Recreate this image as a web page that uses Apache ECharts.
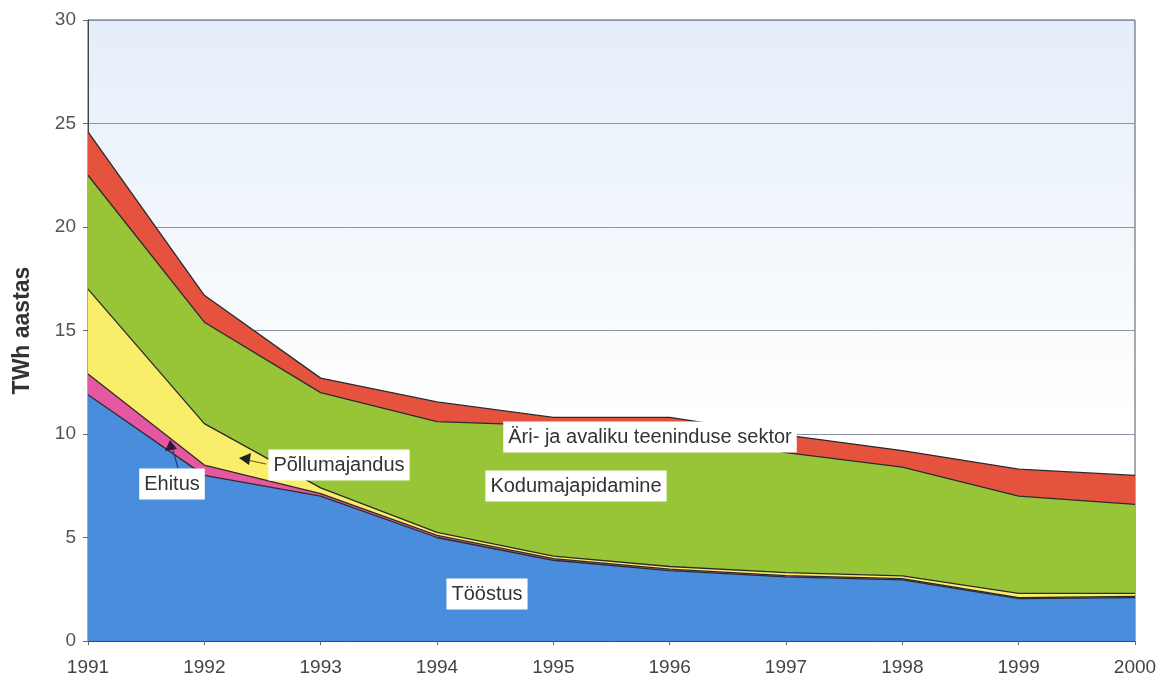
<!DOCTYPE html>
<html>
<head>
<meta charset="utf-8">
<script src="https://cdn.jsdelivr.net/npm/echarts@6/dist/echarts.min.js"></script>
<style>
  html, body { margin: 0; padding: 0; background: #fff; }
  #main { width: 1157px; height: 684px; }
</style>
</head>
<body>
<div id="main"></div>
<script>
  // aastad ja sektorite tarbimine (TWh aastas)
  const years = ['1991', '1992', '1993', '1994', '1995', '1996', '1997', '1998', '1999', '2000'];
  const toostus = [11.9, 8.0, 7.0, 5.0, 3.9, 3.4, 3.1, 2.95, 2.05, 2.1];
  const ehitus = [1.0, 0.5, 0.12, 0.1, 0.08, 0.07, 0.06, 0.06, 0.05, 0.05];
  const pollumajandus = [4.1, 2.0, 0.28, 0.15, 0.12, 0.13, 0.14, 0.14, 0.2, 0.15];
  const kodumajapidamine = [5.5, 4.9, 4.6, 5.35, 6.3, 6.6, 5.8, 5.25, 4.7, 4.3];
  const ariSektor = [2.1, 1.3, 0.7, 0.95, 0.4, 0.6, 0.85, 0.8, 1.3, 1.4];

  const font = 'Liberation Sans, Arial, sans-serif';
  let myChart = echarts.init(document.getElementById('main'));

  function area(name, data, color) {
    return {
      name: name,
      type: 'line',
      stack: 'kokku',
      data: data,
      symbol: 'none',
      lineStyle: { color: '#2b2b2b', width: 1.3 },
      areaStyle: { color: color, opacity: 1 },
      emphasis: { disabled: true }
    };
  }

  function silt(text, x, y) {
    return {
      type: 'text',
      x: x,
      y: y,
      z: 100,
      style: {
        text: text,
        font: '20px ' + font,
        fill: '#333',
        align: 'center',
        verticalAlign: 'middle',
        backgroundColor: '#fff',
        padding: [6, 5, 5, 5]
      }
    };
  }

  let option = {
    animation: false,
    grid: {
      left: 88, right: 22, top: 20, bottom: 43,
      outerBoundsMode: 'none',
      show: true,
      borderColor: '#555',
      borderWidth: 1,
      backgroundColor: new echarts.graphic.LinearGradient(0, 0, 0, 1, [
        { offset: 0, color: '#e4eef9' },
        { offset: 0.65, color: '#ffffff' },
        { offset: 1, color: '#ffffff' }
      ])
    },
    xAxis: {
      type: 'category',
      data: years,
      boundaryGap: false,
      axisLine: { lineStyle: { color: '#444', width: 1 } },
      axisTick: { show: true, length: 4, lineStyle: { color: '#666' } },
      axisLabel: { color: '#444', fontSize: 19, fontFamily: font, margin: 17 },
      splitLine: { show: false }
    },
    yAxis: {
      type: 'value',
      min: 0,
      max: 30,
      interval: 5,
      name: 'TWh aastas',
      nameLocation: 'middle',
      nameGap: 54,
      nameTextStyle: { color: '#333', fontSize: 23, fontWeight: 'bold', fontFamily: font },
      axisLine: { show: true, lineStyle: { color: '#444', width: 1 } },
      axisTick: { show: true, length: 5, lineStyle: { color: '#666' } },
      axisLabel: { color: '#555', fontSize: 19, fontFamily: font, margin: 12 },
      splitLine: { lineStyle: { color: '#8c92aa', width: 1 } }
    },
    series: [
      area('Tööstus', toostus, '#4a8ddd'),
      area('Ehitus', ehitus, '#e657a2'),
      area('Põllumajandus', pollumajandus, '#f9ee6a'),
      area('Kodumajapidamine', kodumajapidamine, '#98c437'),
      area('Äri- ja avaliku teeninduse sektor', ariSektor, '#e5533e')
    ],
    graphic: [
      silt('Ehitus', 172, 484),
      silt('Põllumajandus', 339, 465),
      silt('Kodumajapidamine', 576, 486),
      silt('Tööstus', 487, 594),
      silt('Äri- ja avaliku teeninduse sektor', 650, 437),
      // nooled
      { type: 'line', z: 100, shape: { x1: 178, y1: 468, x2: 172, y2: 447 }, style: { stroke: '#1d3f7a', lineWidth: 1.2 } },
      { type: 'polygon', z: 100, shape: { points: [[170, 440], [165, 451], [177, 449]] }, style: { fill: '#2a1a3a' } },
      { type: 'line', z: 100, shape: { x1: 266, y1: 464, x2: 247, y2: 460 }, style: { stroke: '#6b5a20', lineWidth: 1.2 } },
      { type: 'polygon', z: 100, shape: { points: [[239, 458], [251, 453], [249, 465]] }, style: { fill: '#222' } }
    ]
  };
  myChart.setOption(option);
</script>
</body>
</html>
